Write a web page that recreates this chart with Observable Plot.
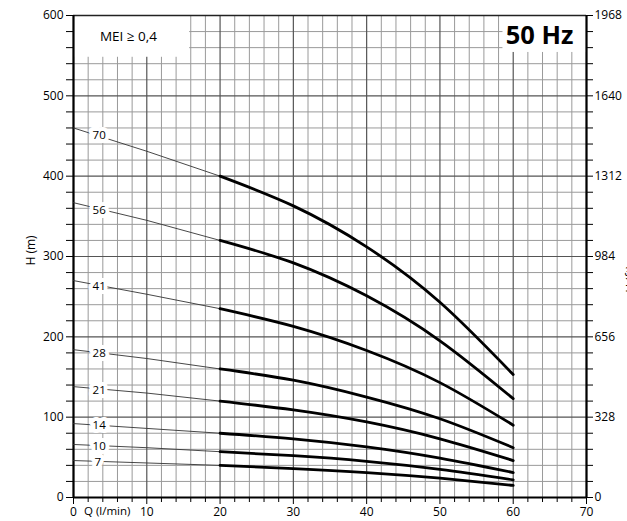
<!DOCTYPE html>
<html><head><meta charset="utf-8">
<script src="https://cdn.jsdelivr.net/npm/d3@7"></script>
<script src="https://cdn.jsdelivr.net/npm/@observablehq/plot@0.6"></script>
<style>body{margin:0;background:#fff} svg{display:block}</style>
</head><body><div id="chart"></div>
<script>
// Flow rates (l/min) at which the curves are read
const flowQ = [0, 10, 20, 30, 40, 50, 60];
// Stage counts (curve labels)
const stageLabels = ["7", "10", "14", "21", "28", "41", "56", "70"];
// Head (m) for each stage count, at flowQ
const head7  = [46, 43, 40, 36, 31, 24, 15];
const head10 = [66, 62, 57, 52, 45, 35, 22];
const head14 = [92, 86, 80, 73, 63, 49, 31];
const head21 = [138, 130, 120, 109, 94, 73, 46];
const head28 = [184, 173, 160, 146, 125, 98, 62];
const head41 = [270, 253, 235, 213, 183, 143, 90];
const head56 = [367, 345, 320, 292, 251, 195, 123];
const head70 = [460, 431, 400, 363, 312, 243, 153];
const heads = [head7, head10, head14, head21, head28, head41, head56, head70];
// label positions along the thin part
const labelQ = [3.3, 3.5, 3.5, 3.5, 3.5, 3.5, 3.5, 3.5];
const labelH = [43.5, 63.5, 90, 134, 179, 263, 357, 450.5];
// axes
const xTicks = [0, 10, 20, 30, 40, 50, 60, 70];
const xMinor = d3.range(0, 71, 2);
const yTicks = [0, 100, 200, 300, 400, 500, 600];
const yMinor = d3.range(0, 601, 20);
const ftLabels = ["0", "328", "656", "984", "1312", "1640", "1968"];
const meiText = "MEI ≥ 0,4";
const hzText = "50 Hz";

const rows = [];
heads.forEach((h, s) => flowQ.forEach((q, i) => rows.push({stage: stageLabels[s], Q: q, H: h[i]})));
const thin = rows.filter(d => d.Q <= 20);
const thick = rows.filter(d => d.Q >= 20);
const labels = stageLabels.map((t, i) => ({t, Q: labelQ[i], H: labelH[i]}));

const minorX = xMinor.filter(d => d % 10 !== 0);
const minorY = yMinor.filter(d => d % 100 !== 0);
const boxes = [{x1: 0, x2: 15.85, y1: 548, y2: 600}, {x1: 58.6, x2: 70, y1: 554, y2: 600}];

const font = "Open Sans, sans-serif";
const chart = Plot.plot({
  width: 627, height: 521,
  marginLeft: 73, marginRight: 41, marginTop: 15, marginBottom: 24,
  style: {fontFamily: font, fontSize: "12px", color: "#000", background: "white"},
  x: {domain: [0, 70], label: null},
  y: {domain: [0, 600], label: null},
  marks: [
    Plot.ruleX(minorX, {stroke: "#9a9a9a", strokeWidth: 1}),
    Plot.ruleY(minorY, {stroke: "#9a9a9a", strokeWidth: 1}),
    Plot.ruleX(xTicks, {stroke: "#555", strokeWidth: 1.2}),
    Plot.ruleY(yTicks, {stroke: "#555", strokeWidth: 1.2}),
    Plot.rect(boxes, {x1: "x1", x2: "x2", y1: "y1", y2: "y2", fill: "white"}),
    Plot.ruleY([600], {stroke: "#222", strokeWidth: 1.5}),
    Plot.ruleY([0], {stroke: "black", strokeWidth: 2.2}),
    Plot.ruleX([0, 70], {stroke: "black", strokeWidth: 2.2}),
    Plot.line(thin, {x: "Q", y: "H", z: "stage", stroke: "#333", strokeWidth: 0.9}),
    Plot.line(thick, {x: "Q", y: "H", z: "stage", stroke: "black", strokeWidth: 2.8, curve: "natural"}),
    Plot.text(labels, {x: "Q", y: "H", text: "t", fill: "#000", stroke: "white", strokeWidth: 8, fontSize: 11.5}),
    Plot.axisY(minorY, {anchor: "left", tickSize: 7, tickFormat: () => "", label: null}),
    Plot.axisY(yTicks, {anchor: "left", tickSize: 7, tickPadding: 3, label: null}),
    Plot.axisY(minorY, {anchor: "right", tickSize: 6, tickFormat: () => "", label: null}),
    Plot.axisY(yTicks, {anchor: "right", tickSize: 6, tickPadding: 2, tickFormat: d => ftLabels[yTicks.indexOf(d)], label: null}),
    Plot.axisX(minorX, {anchor: "bottom", tickSize: 5, tickFormat: () => "", label: null}),
    Plot.axisX(xTicks, {anchor: "bottom", tickSize: 7, tickPadding: 3, label: null}),
    Plot.text(["Q (l/min)"], {x: 4.6, frameAnchor: "bottom", dy: 17, fontSize: 11.5}),
    Plot.text(["H (m)"], {frameAnchor: "left", dx: -42, dy: 9, rotate: -90, fontSize: 12}),
    Plot.text(["H (ft)"], {frameAnchor: "right", dx: 45, dy: 9, rotate: -90, fontSize: 12}),
    Plot.text([meiText], {x: 7.5, y: 574, fontSize: 13.5}),
    Plot.text([hzText], {x: 63.6, y: 575, fontSize: 25.5, fontWeight: "bold"})
  ]
});
document.getElementById("chart").appendChild(chart);
</script>
</body></html>
